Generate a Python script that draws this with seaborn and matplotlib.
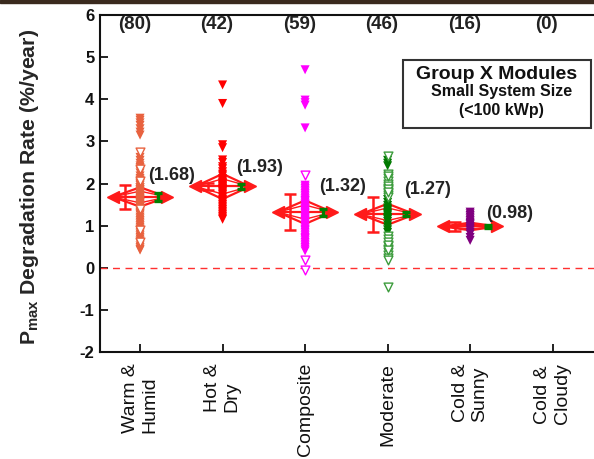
import pandas as pd
import seaborn as sns
import matplotlib.pyplot as plt
from matplotlib.patches import Rectangle

# Climate zones (x categories)
climates = ["Warm &\nHumid", "Hot &\nDry", "Composite", "Moderate", "Cold &\nSunny", "Cold &\nCloudy"]
counts = [80, 42, 59, 46, 16, 0]
means = [1.68, 1.93, 1.32, 1.27, 0.98, None]
sd_err = [0.28, 0.08, 0.43, 0.42, 0.10, None]    # red error bars
ci_err = [0.10, 0.07, 0.08, 0.05, 0.03, None]    # green error bars
diamond_h = [0.23, 0.30, 0.28, 0.25, 0.09, None]
colors = ["#E8623F", "#FF0000", "#FF00FF", "#007A00", "#800080", "#000000"]
open_colors = ["#E8623F", "#FF0000", "#FF00FF", "#3C9C3C", "#800080", "#000000"]

# Individual system degradation rates (%/year), filled and open markers
warm_filled = [3.55, 3.5, 3.44, 3.38, 3.3, 3.22, 3.15, 2.62, 2.55, 2.48, 2.42, 2.38, 2.3, 2.25,
               2.18, 2.12, 2.08, 2.02, 1.98, 1.95, 1.9, 1.86, 1.82, 1.78, 1.75, 1.72, 1.7, 1.68,
               1.65, 1.62, 1.6, 1.57, 1.55, 1.52, 1.48, 1.45, 1.42, 1.38, 1.35, 1.32, 1.28, 1.25,
               1.2, 1.16, 1.12, 1.08, 1.04, 1.0, 0.96, 0.92, 0.88, 0.84, 0.8, 0.76, 0.72, 0.68,
               0.64, 0.58, 0.52, 0.48, 0.44, 0.42, 1.85, 1.75, 1.65, 1.55, 1.5, 1.45, 1.7, 1.6,
               1.8, 1.9, 2.0, 1.3]
warm_open = [2.75, 2.35, 2.05, 1.4, 0.9, 0.6]
hot_filled = [4.34, 3.9, 2.92, 2.85, 2.56, 2.5, 2.4, 2.35, 2.28, 2.22, 2.18, 2.12, 2.08, 2.04,
              2.0, 1.97, 1.95, 1.93, 1.9, 1.88, 1.85, 1.82, 1.8, 1.77, 1.74, 1.7, 1.66, 1.62,
              1.58, 1.54, 1.5, 1.46, 1.42, 1.38, 1.34, 1.3, 1.26, 1.22, 1.18, 1.15, 2.02, 1.86]
hot_open = []
comp_filled = [4.7, 3.98, 3.92, 3.86, 3.32, 1.96, 1.92, 1.88, 1.84, 1.8, 1.76, 1.72, 1.68, 1.64,
               1.6, 1.56, 1.52, 1.48, 1.44, 1.4, 1.36, 1.32, 1.28, 1.24, 1.2, 1.16, 1.12, 1.08,
               1.04, 1.0, 0.96, 0.92, 0.88, 0.84, 0.8, 0.76, 0.72, 0.68, 0.64, 0.6, 0.56, 0.52,
               0.48, 0.44, 0.4, 1.5, 1.3, 1.1, 0.9, 1.4, 1.2, 1.0, 0.7, 1.6, 1.35, 1.15]
comp_open = [2.2, 0.18, -0.05]
mod_filled = [2.55, 2.48, 2.42, 1.62, 1.55, 1.48, 1.42, 1.35, 1.3, 1.25, 1.2, 1.15, 1.1, 1.02,
              0.96, 0.9, 0.84, 1.38, 1.28, 1.18]
mod_open = [2.65, 2.22, 2.12, 2.05, 1.98, 1.9, 1.84, 1.78, 1.72, 1.68, 0.75, 0.68, 0.6, 0.52,
            0.45, 0.38, 0.3, 0.22, 0.18, -0.46, 2.18, 1.95, 1.88, 1.8, 0.55, 0.42]
cold_filled = [1.32, 1.28, 1.24, 1.2, 1.16, 1.12, 1.08, 1.05, 1.02, 0.98, 0.94, 0.9, 0.85, 0.8,
               0.72, 0.65]
cold_open = []

filled_sets = [warm_filled, hot_filled, comp_filled, mod_filled, cold_filled, []]
open_sets = [warm_open, hot_open, comp_open, mod_open, cold_open, []]

# label placement (offset from category / mean)
label_dx = [0.10, 0.17, 0.17, 0.20, 0.19]
label_dy = [0.52, 0.44, 0.62, 0.58, 0.30]

sns.set_style("ticks")
plt.rcParams["font.family"] = ["Liberation Sans", "DejaVu Sans"]
plt.rcParams["mathtext.fontset"] = "custom"
plt.rcParams["mathtext.rm"] = "Liberation Sans"
plt.rcParams["mathtext.bf"] = "Liberation Sans:bold"
plt.rcParams["axes.unicode_minus"] = False

fig = plt.figure(figsize=(5.94, 4.59), dpi=100)
ax = fig.add_axes([0.1684, 0.2331, 0.8384, 0.7342])

# dark window edge at the very top
fig.patches.append(Rectangle((0, 0.993), 1, 0.007, transform=fig.transFigure,
                             color="#3a2a1e", zorder=10))

ax.axhline(0, color="#FF3030", lw=1.0, ls=(0, (5, 4)), zorder=1)

# means diamonds + error bars
for i, m in enumerate(means):
    if m is None:
        continue
    h = diamond_h[i]
    w = 0.33
    ax.plot([i - w, i, i + w, i, i - w], [m, m + h, m, m - h, m], color="#FF1A1A", lw=1.6, zorder=2)
    ax.plot([i - w, i, i + w, i, i - w], [m, m + h * 0.6, m, m - h * 0.6, m],
            color="#FF1A1A", lw=1.0, zorder=2)
    ax.plot([i - w, i + w], [m, m], color="#FF1A1A", lw=1.6, zorder=2)
    ax.plot([i - w], [m], marker="<", color="#FF1A1A", ms=8, zorder=2)
    ax.plot([i + w], [m], marker=">", color="#FF1A1A", ms=8, zorder=2)
    ax.errorbar(i - 0.18, m, yerr=sd_err[i], color="#FF1A1A", lw=1.8, capsize=4,
                capthick=1.8, zorder=3)
    ax.errorbar(i + 0.22, m, yerr=ci_err[i], color="#008000", lw=2.4, capsize=3,
                capthick=2.4, zorder=3)

rows = []
for name, vals in zip(climates, filled_sets):
    for v in vals:
        rows.append({"climate": name, "rate": v})
df = pd.DataFrame(rows)

sns.stripplot(data=df, x="climate", y="rate", hue="climate", order=climates,
              hue_order=climates, palette=colors, jitter=False, marker="v", size=6.5,
              linewidth=0, legend=False, ax=ax, zorder=4)

for i, vals in enumerate(open_sets):
    if vals:
        ax.scatter([i] * len(vals), vals, marker="v", s=40, facecolors="white",
                   edgecolors=open_colors[i], linewidths=1.0, zorder=5)

for i, m in enumerate(means):
    if m is None:
        continue
    ax.text(i + label_dx[i], m + label_dy[i], f"({m:.2f})", fontsize=13,
            fontweight="bold", ha="left", va="center", color="#222222", zorder=6)

for i, n in enumerate(counts):
    ax.text(i - 0.07, 5.78, f"({n})", fontsize=13.5, fontweight="bold",
            ha="center", va="center", color="#222222")

# group legend box
ax.add_patch(Rectangle((0.608, 0.665), 0.378, 0.201, transform=ax.transAxes,
                       fill=False, ec="#333333", lw=1.5, zorder=6))
ax.text(0.797, 0.822, "Group X Modules", transform=ax.transAxes, fontsize=14,
        fontweight="bold", ha="center", va="center", color="#111111")
ax.text(0.807, 0.772, "Small System Size", transform=ax.transAxes, fontsize=11.5,
        fontweight="bold", ha="center", va="center", color="#111111")
ax.text(0.807, 0.718, "(<100 kWp)", transform=ax.transAxes, fontsize=11.5,
        fontweight="bold", ha="center", va="center", color="#111111")

ax.set_xlim(-0.485, 5.55)
ax.set_ylim(-2, 6)
ax.set_yticks(range(-2, 7))
ax.set_xlabel("")
ax.set_ylabel(r"$\mathbf{P_{max}}$ Degradation Rate (%/year)", fontsize=15.3,
              fontweight="bold")
ax.yaxis.set_label_coords(-0.118, 0.49)
ax.tick_params(axis="both", direction="in", length=6, width=1.3, colors="#111111")
ax.tick_params(axis="y", labelsize=12, pad=4)
ax.tick_params(axis="x", labelsize=14, pad=8)
for lab in ax.get_yticklabels():
    lab.set_fontweight("bold")
ax.set_xticks(range(len(climates)))
ax.set_xticklabels(climates, rotation=90, ha="center", va="top", multialignment="left")
for s in ax.spines.values():
    s.set_linewidth(1.5)
    s.set_color("#111111")

fig.savefig("out.png", dpi=100)
